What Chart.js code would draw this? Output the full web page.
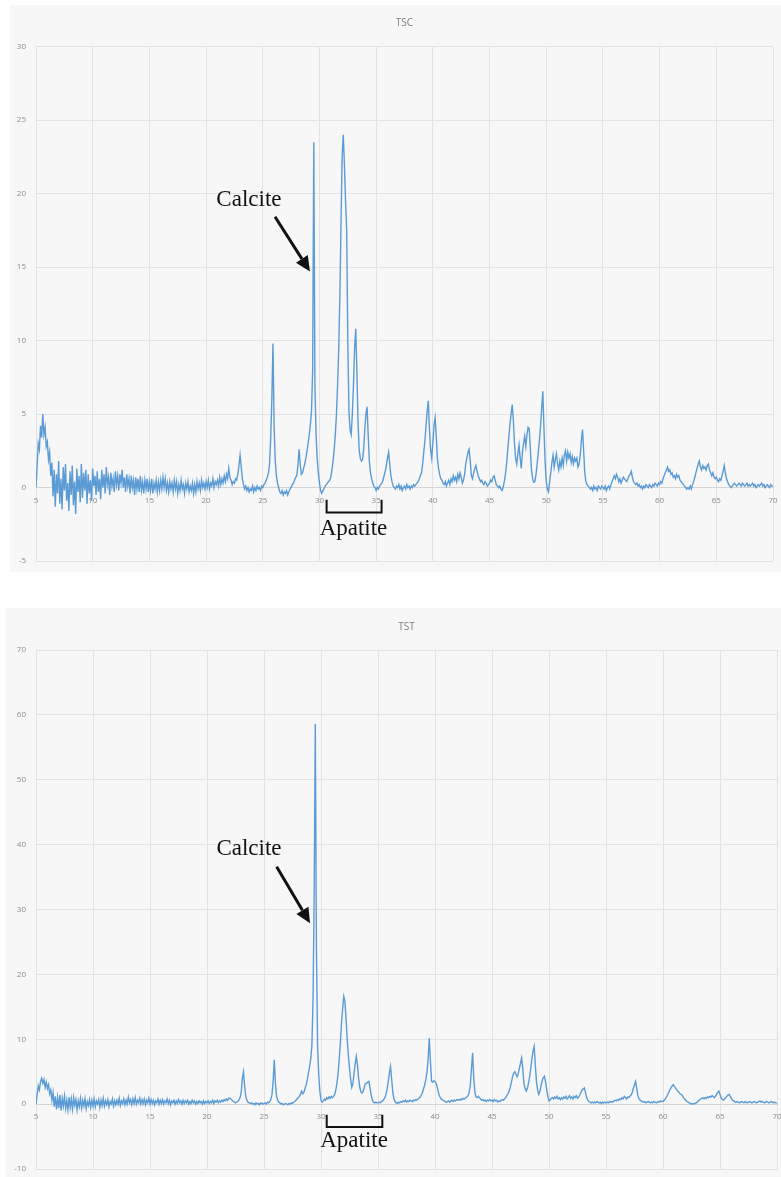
<!DOCTYPE html>
<html><head><meta charset="utf-8">
<script src="https://cdn.jsdelivr.net/npm/chart.js@4/dist/chart.umd.min.js"></script>
<style>
html,body{margin:0;padding:0;background:#fff;width:781px;height:1177px;overflow:hidden;}
.panel{position:absolute;background:#f7f7f7;}
#p1{left:10px;top:5px;width:771px;height:567px;}
#p2{left:5px;top:608px;width:776px;height:569px;}
</style></head><body>
<div class="panel" id="p1"><canvas id="c1"></canvas></div>
<div class="panel" id="p2"><canvas id="c2"></canvas></div>
<script>
// sampling grid of the scans (2-theta, degrees)
const START_ANGLE = 5, ANGLE_STEP = 0.1;
const xTickValues = [5,10,15,20,25,30,35,40,45,50,55,60,65,70];
const tscTickValues = [-5,0,5,10,15,20,25,30];
const tstTickValues = [-10,0,10,20,30,40,50,60,70];

// TSC intensities, one row per degree (5.0 ... 70.0)
const tscCounts = [
0.0,1.5,3.0,2.6,4.2,3.4,5.0,3.6,4.1,2.8,
3.1,1.9,2.4,0.8,1.7,-0.6,1.2,-1.3,0.9,-0.4,
1.8,-1.1,0.6,-1.5,1.4,-0.2,1.6,-0.9,0.3,-1.6,
1.1,-0.5,1.5,-1.2,0.4,-1.8,1.3,-0.3,0.8,-1.0,
1.6,-0.7,1.0,-0.2,1.2,-1.1,0.9,-0.4,0.5,-0.9,
1.3,0.1,0.8,-0.5,1.1,-0.3,0.6,-0.8,1.2,0.0,
0.9,-0.4,1.4,0.2,0.7,-0.5,1.0,0.1,0.6,-0.3,
1.1,0.2,0.8,-0.2,0.9,0.3,1.2,0.0,0.7,-0.3,
0.9,0.1,0.6,-0.4,0.8,0.0,0.5,-0.5,0.7,-0.1,
0.6,-0.3,0.8,-0.2,0.4,-0.4,0.5,-0.1,0.6,-0.3,
0.4,-0.2,0.6,-0.4,0.3,-0.1,0.5,-0.3,0.4,-0.2,
0.5,-0.1,0.7,0.0,0.6,-0.2,0.3,-0.3,0.4,-0.1,
0.3,-0.3,0.5,-0.1,0.4,-0.4,0.2,-0.2,0.5,-0.1,
0.2,-0.4,0.3,-0.1,0.4,-0.3,0.1,-0.2,0.3,-0.4,
0.2,-0.3,0.4,-0.1,0.3,-0.2,0.5,0.0,0.3,-0.1,
0.4,0.0,0.5,-0.1,0.3,0.1,0.6,0.0,0.4,0.2,
0.5,0.1,0.7,0.2,0.6,0.3,0.8,0.4,0.9,0.6,
1.3,0.7,0.5,0.2,0.4,0.3,0.6,0.5,0.9,1.5,
2.2,1.4,0.6,0.2,-0.1,0.1,-0.2,0.0,-0.3,-0.1,
-0.2,0.1,-0.3,0.0,-0.2,0.1,-0.1,0.0,-0.2,0.1,
0.0,0.2,0.3,0.5,0.7,1.0,1.6,3.4,6.0,9.8,
4.2,1.8,0.8,0.3,0.0,-0.3,-0.4,-0.2,-0.5,-0.3,
-0.4,-0.2,-0.5,-0.3,-0.1,0.0,0.2,0.3,0.5,0.7,
0.8,1.5,2.6,1.6,0.9,1.0,1.3,1.6,2.0,2.5,
3.0,3.6,4.3,5.2,8.0,23.5,7.0,3.6,2.0,1.0,
0.3,-0.2,-0.4,-0.2,-0.1,0.1,0.2,0.3,0.4,0.5,
0.7,1.2,1.8,2.6,3.6,5.0,7.0,9.5,13.0,18.0,
22.5,24.0,22.0,19.5,17.5,10.0,5.2,3.9,3.6,5.0,
7.0,9.5,10.8,8.0,4.5,2.6,2.0,1.8,1.9,2.6,
4.0,5.0,5.5,3.5,1.8,1.0,0.6,0.3,0.1,0.0,
-0.2,0.0,-0.1,0.1,0.2,0.3,0.5,0.8,1.1,1.5,
2.0,2.4,1.6,0.8,0.4,0.1,0.0,-0.1,0.1,0.0,
0.2,-0.1,0.1,-0.2,0.0,0.1,-0.1,0.2,0.0,0.1,
-0.1,0.1,0.0,0.2,0.1,0.2,0.3,0.4,0.6,0.8,
1.0,1.6,2.4,3.2,4.2,5.2,5.9,4.0,2.6,2.0,
3.0,4.2,4.75,3.5,2.0,1.3,0.9,0.6,0.5,0.3,
0.2,0.4,0.1,0.3,0.5,0.2,0.6,0.4,0.8,0.5,
0.7,0.4,0.9,0.6,1.0,0.7,0.3,0.5,0.9,1.6,
2.0,2.4,2.6,1.8,0.8,0.6,1.0,1.3,1.5,1.1,
0.8,0.6,0.4,0.5,0.3,0.2,0.4,0.3,0.1,0.2,
0.3,0.5,0.4,0.7,0.8,0.5,0.2,0.1,0.0,0.1,
-0.1,-0.2,0.0,0.4,0.9,1.6,2.5,3.4,4.3,5.0,
5.65,4.6,3.0,2.0,1.6,2.3,2.9,2.0,1.3,2.4,
3.0,3.5,2.8,3.6,4.1,4.0,2.6,1.2,0.6,0.35,
0.4,0.9,1.6,2.4,3.2,4.2,5.4,6.55,4.0,1.8,
0.4,-0.1,-0.3,0.4,1.0,1.7,2.2,1.4,1.9,2.3,
1.6,1.2,1.8,1.4,2.0,1.5,2.2,2.5,1.8,2.4,
2.0,2.3,1.7,2.1,1.6,2.0,1.8,2.0,1.4,1.6,
2.2,3.2,3.95,2.5,1.0,0.4,0.2,0.1,0.0,-0.1,
0.0,-0.2,0.1,-0.1,0.0,-0.2,0.1,0.0,-0.1,0.1,
0.0,-0.1,0.1,-0.2,0.0,0.1,-0.1,0.2,0.4,0.6,
0.8,0.6,0.9,0.7,0.4,0.6,0.3,0.5,0.7,0.6,
0.5,0.4,0.6,0.8,0.9,1.1,0.7,0.4,0.3,0.2,
0.3,0.1,0.2,0.0,0.1,-0.1,0.1,0.0,0.2,0.1,
0.0,0.2,0.1,0.0,0.2,0.1,0.3,0.2,0.1,0.3,
0.2,0.4,0.3,0.6,0.8,1.0,1.2,1.4,1.1,1.2,
0.9,1.0,0.7,0.8,0.6,0.9,0.7,0.8,0.5,0.4,
0.3,0.2,0.1,0.0,-0.1,0.0,-0.1,0.1,-0.1,0.2,
0.4,0.7,1.0,1.3,1.6,1.8,1.4,1.2,1.5,1.3,
1.4,1.2,1.5,1.6,1.2,1.0,0.8,1.0,0.7,0.6,
0.7,0.5,0.4,0.6,0.5,0.8,1.1,1.5,1.0,0.6,
0.4,0.2,0.1,0.0,0.1,0.2,0.3,0.2,0.1,0.2,
0.3,0.2,0.1,0.3,0.2,0.1,0.2,0.3,0.1,0.2,
0.1,0.2,0.3,0.1,0.2,0.0,0.1,0.2,0.1,0.2,
0.3,0.1,0.2,0.0,0.1,0.2,0.1,0.0,0.2,0.1,
0.1
];

// TST intensities, one row per degree (5.0 ... 70.0)
const tstCounts = [
0.0,1.5,2.8,2.2,3.5,4.0,3.2,3.8,2.6,3.4,
2.4,3.0,1.6,2.2,0.6,1.8,-0.4,1.2,-0.8,1.0,
-0.6,1.4,-1.0,0.9,-0.3,1.2,-0.7,0.6,-0.9,1.1,
-0.5,0.8,-0.8,1.0,-0.2,0.7,-0.9,0.5,-0.4,0.9,
-0.6,0.6,-0.3,0.8,-0.7,0.4,-0.2,0.7,-0.5,0.6,
-0.3,0.8,-0.4,0.5,0.0,0.7,-0.5,0.6,-0.2,0.9,
-0.3,0.5,-0.1,0.7,-0.4,0.4,0.0,0.8,-0.3,0.5,
-0.1,0.6,0.0,0.9,-0.2,0.5,0.1,0.8,-0.1,0.6,
0.0,1.1,0.2,0.7,-0.1,0.8,0.1,1.0,0.0,0.6,
0.2,0.9,0.0,0.7,0.1,0.8,-0.1,0.6,0.2,0.9,
0.0,0.7,0.1,0.6,-0.1,0.5,0.2,0.8,0.0,0.6,
0.1,0.7,0.0,0.5,0.2,0.8,0.1,0.6,-0.1,0.5,
0.2,0.6,0.0,0.5,0.1,0.7,0.2,0.5,0.0,0.6,
0.1,0.5,0.2,0.6,0.0,0.4,0.1,0.6,0.2,0.5,
0.0,0.4,0.1,0.5,0.2,0.4,0.0,0.5,0.1,0.4,
0.2,0.5,0.1,0.4,0.2,0.6,0.1,0.5,0.3,0.6,
0.2,0.5,0.3,0.6,0.4,0.7,0.5,0.8,0.6,0.9,
0.9,0.8,0.6,0.4,0.3,0.2,0.3,0.4,0.6,1.0,
1.8,4.0,5.0,2.8,1.2,0.6,0.3,0.2,0.1,0.2,
0.0,0.1,-0.1,0.2,0.0,0.1,-0.1,0.2,0.1,0.0,
0.1,0.2,0.0,0.3,0.2,0.4,0.7,1.5,3.5,6.85,
3.2,1.2,0.6,0.3,0.2,0.0,0.1,-0.1,0.0,0.1,
0.0,-0.1,0.1,0.0,0.2,0.1,0.3,0.4,0.6,0.8,
1.0,1.2,1.5,2.0,1.6,1.8,2.4,3.0,3.8,4.8,
5.8,7.0,9.0,16.0,32.0,58.6,24.0,9.0,4.5,2.0,
0.6,0.3,0.5,0.8,0.6,1.0,0.8,1.1,0.9,1.2,
1.0,1.2,1.5,2.2,3.2,4.8,7.0,9.5,12.5,14.8,
16.6,15.8,13.0,10.0,7.5,5.5,3.8,2.6,3.2,4.8,
6.2,7.35,6.0,4.0,2.6,1.9,1.7,2.0,2.6,3.2,
3.2,3.4,3.5,2.5,1.4,0.7,0.3,0.2,0.3,0.2,
0.2,0.3,0.2,0.4,0.5,0.7,1.0,1.5,2.3,3.5,
4.8,5.8,3.8,1.8,0.8,0.4,0.2,0.1,0.3,0.2,
0.4,0.3,0.5,0.4,0.6,0.3,0.5,0.4,0.6,0.5,
0.4,0.6,0.5,0.7,0.6,0.8,0.9,1.1,1.4,1.8,
2.4,3.0,3.8,5.0,7.0,10.2,6.5,3.5,3.4,3.6,
3.5,3.2,2.6,1.8,1.2,0.9,0.7,0.6,0.5,0.4,
0.3,0.4,0.5,0.3,0.5,0.6,0.4,0.6,0.5,0.7,
0.6,0.7,0.6,0.8,0.7,0.9,0.8,1.0,1.1,1.3,
1.8,3.0,5.5,7.9,4.0,1.8,1.1,1.0,1.2,1.0,
0.8,0.6,0.7,0.5,0.6,0.4,0.6,0.5,0.7,0.5,
0.6,0.4,0.7,0.5,0.6,0.3,0.5,0.4,0.6,0.7,
0.6,0.8,1.0,1.3,1.6,2.0,2.6,3.4,4.2,4.7,
5.0,4.6,4.2,4.7,5.5,6.3,7.1,5.5,3.2,2.4,
2.0,2.4,3.2,4.2,5.5,7.0,8.2,8.9,6.0,3.5,
2.2,1.5,1.9,2.8,3.6,4.1,4.3,3.4,2.2,1.2,
0.5,0.6,0.9,1.0,0.8,1.1,0.9,1.2,0.8,1.0,
0.7,1.0,0.8,1.1,0.9,1.2,0.8,1.0,1.3,0.9,
1.1,0.8,1.2,1.0,1.3,0.9,1.1,1.4,1.8,2.2,
2.3,2.5,1.8,1.0,0.6,0.4,0.3,0.2,0.3,0.2,
0.3,0.2,0.4,0.3,0.2,0.3,0.1,0.3,0.2,0.3,
0.2,0.3,0.2,0.4,0.3,0.4,0.3,0.5,0.6,0.5,
0.7,0.6,0.8,0.7,1.0,0.8,1.2,1.0,0.8,1.1,
1.0,1.2,1.4,1.8,2.4,3.0,3.5,2.4,1.3,0.8,
0.6,0.5,0.4,0.3,0.4,0.2,0.3,0.4,0.3,0.2,
0.3,0.2,0.4,0.3,0.2,0.3,0.4,0.3,0.5,0.4,
0.4,0.6,0.8,1.1,1.4,1.8,2.2,2.5,2.8,3.0,
2.7,2.5,2.2,2.0,1.8,1.6,1.5,1.3,1.0,0.8,
0.6,0.4,0.3,0.2,0.1,0.0,0.1,0.0,0.1,0.2,
0.3,0.5,0.6,0.8,0.9,1.0,0.8,1.0,0.9,1.1,
1.0,1.2,1.1,1.3,1.2,1.0,1.2,1.5,1.8,2.0,
1.5,1.0,0.7,0.6,0.8,1.0,1.2,1.4,1.5,1.2,
0.9,0.6,0.5,0.4,0.3,0.4,0.3,0.2,0.3,0.4,
0.3,0.2,0.4,0.3,0.2,0.3,0.4,0.3,0.2,0.3,
0.4,0.3,0.2,0.3,0.4,0.5,0.3,0.4,0.3,0.2,
0.3,0.4,0.3,0.2,0.3,0.4,0.3,0.2,0.3,0.2,
0.2
];

function toPoints(vals){
  return vals.map((v,i)=>({x: Math.round((START_ANGLE + i*ANGLE_STEP)*10)/10, y: v}));
}

const LINE_COLOR = '#5b9bd5';
const GRID_COLOR = '#e2e2e2';
const TICK_COLOR = '#8c8c8c';
const TICK_FONT = {family:'"Open Sans", "Liberation Sans", sans-serif', size:8};

const annotatePlugin = {
  id:'xrdNotes',
  afterDraw(chart, args, o){
    if(!o || !o.calcite) return;
    const ctx = chart.ctx, xs = chart.scales.x, ys = chart.scales.y;
    const px = v => xs.getPixelForValue(v), py = v => ys.getPixelForValue(v);
    ctx.save();
    ctx.fillStyle = '#111'; ctx.strokeStyle = '#111';
    ctx.font = '23px "Liberation Serif", "Times New Roman", serif';
    ctx.textAlign = 'center'; ctx.textBaseline = 'middle';
    const c = o.calcite;
    ctx.fillText('Calcite', px(c.text[0]), py(c.text[1]));
    const x0 = px(c.from[0]), y0 = py(c.from[1]), x1 = px(c.to[0]), y1 = py(c.to[1]);
    const ang = Math.atan2(y1-y0, x1-x0), head = 15, hw = 7;
    const bx = x1 - head*Math.cos(ang), by = y1 - head*Math.sin(ang);
    ctx.lineWidth = 3; ctx.lineCap = 'butt';
    ctx.beginPath(); ctx.moveTo(x0,y0); ctx.lineTo(bx,by); ctx.stroke();
    ctx.beginPath(); ctx.moveTo(x1,y1);
    ctx.lineTo(bx + hw*Math.sin(ang), by - hw*Math.cos(ang));
    ctx.lineTo(bx - hw*Math.sin(ang), by + hw*Math.cos(ang));
    ctx.closePath(); ctx.fill();
    const a = o.apatite;
    const ax0 = px(a.from), ax1 = px(a.to), yt = py(a.tickTop), yl = py(a.line);
    ctx.lineWidth = 2;
    ctx.beginPath(); ctx.moveTo(ax0,yt); ctx.lineTo(ax0,yl); ctx.lineTo(ax1,yl); ctx.lineTo(ax1,yt); ctx.stroke();
    ctx.fillText('Apatite', px(a.text[0]), py(a.text[1]));
    ctx.restore();
  }
};

function makeChart(id, title, counts, yTicks, yMin, yMax, axisWidth, pad, titlePad, notes){
  return new Chart(document.getElementById(id), {
    type:'line',
    data:{datasets:[{data: toPoints(counts), borderColor: LINE_COLOR, borderWidth:1.4, pointRadius:0, tension:0, fill:false}]},
    options:{
      responsive:true, maintainAspectRatio:false, animation:false,
      layout:{padding:pad},
      plugins:{
        legend:{display:false}, tooltip:{enabled:false},
        title:{display:true, fullSize:false, text:title, color:'#7f7f7f', font:{family:'"Open Sans", "Liberation Sans", sans-serif', size:10, weight:'normal', lineHeight:1.2}, padding:titlePad},
        xrdNotes: notes
      },
      scales:{
        x:{type:'linear', min:5, max:70, position:{y:0},
           afterFit(s){ s.height = 0; s.paddingLeft = 0; s.paddingRight = 0; },
           afterBuildTicks(s){ s.ticks = xTickValues.map(v=>({value:v})); },
           grid:{color:GRID_COLOR, drawTicks:false},
           border:{display:true, color:'#d4d4d4'},
           ticks:{padding:8, color:TICK_COLOR, font:TICK_FONT, maxRotation:0, autoSkip:false}},
        y:{type:'linear', min:yMin, max:yMax,
           afterFit(s){ s.width = axisWidth; s.paddingTop = 0; s.paddingBottom = 0; },
           afterBuildTicks(s){ s.ticks = yTicks.map(v=>({value:v})); },
           grid:{color:GRID_COLOR, drawTicks:false},
           border:{display:false},
           ticks:{padding:10, color:TICK_COLOR, font:TICK_FONT, autoSkip:false}}
      }
    },
    plugins:[annotatePlugin]
  });
}

makeChart('c1','TSC', tscCounts, tscTickValues, -5, 30, 26,
  {top:0, right:8, bottom:11, left:0}, {top:12.3, bottom:17.4},
  {calcite:{text:[23.78,19.6], from:[26.08,18.43], to:[29.16,14.7]},
   apatite:{from:30.63, to:35.48, tickTop:-0.83, line:-1.7, text:[33.0,-2.8]}});

makeChart('c2','TST', tstCounts, tstTickValues, -10, 70, 31,
  {top:0, right:4, bottom:8, left:0}, {top:12.7, bottom:17.3},
  {calcite:{text:[23.68,39.3], from:[26.11,36.58], to:[29.04,27.88]},
   apatite:{from:30.5, to:35.38, tickTop:-1.62, line:-3.51, text:[32.9,-5.72]}});
</script>
</body></html>
